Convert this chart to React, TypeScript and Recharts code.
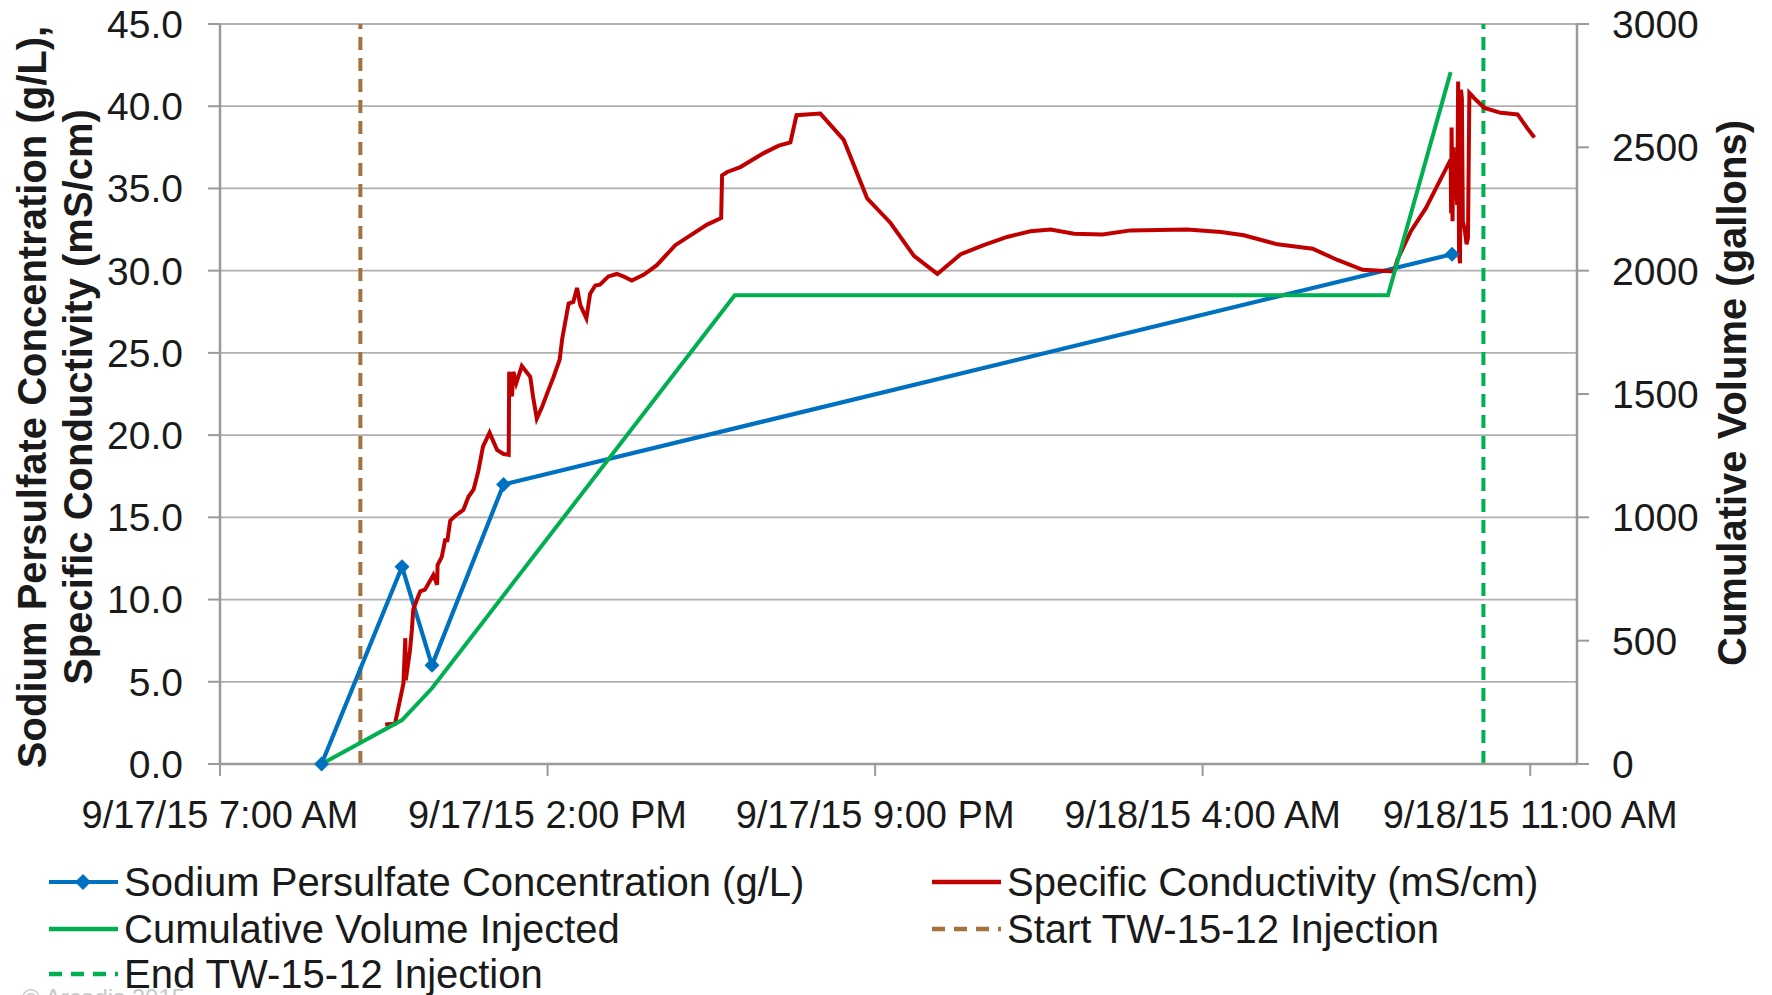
import React from 'react';
import { LineChart, Line, XAxis, YAxis, CartesianGrid, ReferenceLine, Legend } from 'recharts';

// ---- Data (x = hours after 9/17/15 7:00 AM) ----
const xTickHours = [0, 7, 14, 21, 28];
const xTickLabels = ['9/17/15 7:00 AM', '9/17/15 2:00 PM', '9/17/15 9:00 PM', '9/18/15 4:00 AM', '9/18/15 11:00 AM'];
const leftTicks = [0, 5, 10, 15, 20, 25, 30, 35, 40, 45];
const rightTicks = [0, 500, 1000, 1500, 2000, 2500, 3000];

const persulfateHours = [2.17, 3.89, 4.53, 6.06, 26.33];
const persulfateValues = [0, 12, 6, 17, 31];

const volumeHours = [2.17, 3.89, 4.53, 11.0, 24.96, 26.3];
const volumeValues = [0, 178, 307, 1900, 1900, 2805];

const conductivityHours = [
  3.53, 3.74, 3.92, 3.96, 3.97, 4.06, 4.1, 4.13, 4.21, 4.28, 4.38, 4.56, 4.64, 4.65, 4.74, 4.81, 4.86, 4.92,
  5.03, 5.2, 5.31, 5.42, 5.52, 5.62, 5.76, 5.92, 6.06, 6.17, 6.18, 6.22, 6.24, 6.27, 6.33, 6.45, 6.63, 6.69,
  6.77, 6.88, 7.02, 7.13, 7.26, 7.31, 7.45, 7.55, 7.63, 7.7, 7.83, 7.91, 8.02, 8.12, 8.3, 8.48, 8.62, 8.8,
  9.05, 9.2, 9.34, 9.73, 10.41, 10.71, 10.73, 10.84, 11.12, 11.62, 11.94, 12.19, 12.32, 12.83, 13.33, 13.83,
  14.33, 14.83, 15.33, 15.83, 16.32, 16.82, 17.32, 17.75, 18.25, 18.86, 19.46, 20.67, 21.39, 21.88, 22.6,
  23.1, 23.35, 23.88, 24.42, 25.09, 25.16, 25.45, 25.77, 26.02, 26.3, 26.31, 26.32, 26.34, 26.36, 26.38,
  26.4, 26.44, 26.46, 26.48, 26.5, 26.52, 26.54, 26.56, 26.6, 26.64, 26.67, 26.7, 26.8, 27.02, 27.37, 27.73,
  27.94, 28.09,
];
const conductivityValues = [
  2.4, 2.45, 4.9, 7.65, 5.1, 6.9, 8.15, 9.4, 10.0, 10.5, 10.6, 11.5, 10.9, 12.1, 12.6, 13.6, 13.6, 14.8,
  15.1, 15.45, 16.25, 16.7, 17.8, 19.3, 20.15, 19.1, 18.85, 18.8, 23.85, 22.9, 22.35, 23.85, 23.15, 24.2, 23.55, 22.35,
  21.0, 21.7, 22.75, 23.55, 24.6, 25.8, 28.0, 28.1, 28.95, 27.9, 27.1, 28.6, 29.1, 29.15, 29.65, 29.8, 29.65, 29.4,
  29.75, 30.05, 30.35, 31.55, 32.8, 33.2, 35.8, 36.0, 36.3, 37.15, 37.6, 37.8, 39.45, 39.55, 37.95, 34.4,
  32.9, 30.9, 29.8, 31.0, 31.55, 32.05, 32.4, 32.5, 32.25, 32.2, 32.45, 32.5, 32.35, 32.15, 31.6,
  31.43, 31.33, 30.65, 30.05, 29.95, 30.65, 32.4, 33.8, 35.2, 36.75, 33.5, 38.7, 33.0, 37.5, 34.5,
  36.0, 34.0, 41.5, 31.0, 30.45, 41.0, 40.5, 33.0, 32.5, 31.6, 32.0, 40.8, 40.5, 39.9, 39.6, 39.5,
  38.65, 38.1,
];

const startInjectionHour = 3;
const endInjectionHour = 27;

const legendLabels = [
  'Sodium Persulfate Concentration (g/L)',
  'Specific Conductivity (mS/cm)',
  'Cumulative Volume Injected',
  'Start TW-15-12 Injection',
  'End TW-15-12 Injection',
];

// ---- Styles ----
const FONT = '"Liberation Sans", Arial, sans-serif';
const BLUE = '#0070C0';
const RED = '#C00000';
const GREEN = '#00B050';
const BROWN = '#A5713C';
const AXIS = '#9a9a9a';
const GRID = '#b0b0b0';
const TEXT = '#1a1a1a';

const persulfateData = persulfateHours.map((t, i) => ({ t, v: persulfateValues[i] }));
const volumeData = volumeHours.map((t, i) => ({ t, v: volumeValues[i] }));
const conductivityData = conductivityHours.map((t, i) => ({ t, v: conductivityValues[i] }));

const Diamond = (props: any) => {
  const { cx, cy, index } = props;
  if (cx == null || cy == null) return <g key={`d-${index}`} />;
  const r = 7.5;
  return (
    <polygon
      key={`d-${index}`}
      points={`${cx},${cy - r} ${cx + r},${cy} ${cx},${cy + r} ${cx - r},${cy}`}
      fill={BLUE}
    />
  );
};

const legendStyles = [
  { color: BLUE, dash: undefined, marker: true, width: 4 },
  { color: RED, dash: undefined, marker: false, width: 4.5 },
  { color: GREEN, dash: undefined, marker: false, width: 4.5 },
  { color: BROWN, dash: '13 9', marker: false, width: 4.5 },
  { color: GREEN, dash: '13 9', marker: false, width: 4.5 },
];
const legendPos = [
  { x: 49, y: 32 },
  { x: 932, y: 32 },
  { x: 49, y: 79 },
  { x: 932, y: 79 },
  { x: 49, y: 124 },
];

const renderLegend = () => (
  <svg width={1772} height={145} style={{ display: 'block' }}>
    {legendLabels.map((label, i) => {
      const s = legendStyles[i];
      const p = legendPos[i];
      return (
        <g key={label}>
          <line
            x1={p.x}
            x2={p.x + 69}
            y1={p.y}
            y2={p.y}
            stroke={s.color}
            strokeWidth={s.width}
            strokeDasharray={s.dash}
          />
          {s.marker && (
            <polygon
              points={`${p.x + 34},${p.y - 8} ${p.x + 42},${p.y} ${p.x + 34},${p.y + 8} ${p.x + 26},${p.y}`}
              fill={BLUE}
            />
          )}
          <text x={p.x + 75} y={p.y + 14} fontSize={40} fontFamily={FONT} fill={TEXT}>
            {label}
          </text>
        </g>
      );
    })}
  </svg>
);

const LeftTitle = (props: any) => {
  const vb = props.viewBox || {};
  const cy = (vb.y ?? 24) + (vb.height ?? 740) / 2 + 3;
  return (
    <g>
      <text
        x={46}
        y={cy}
        transform={`rotate(-90, 46, ${cy})`}
        textAnchor="middle"
        fontSize={40}
        fontWeight="bold"
        fontFamily={FONT}
        fill={TEXT}
      >
        Sodium Persulfate Concentration (g/L),
      </text>
      <text
        x={92}
        y={cy}
        transform={`rotate(-90, 92, ${cy})`}
        textAnchor="middle"
        fontSize={40}
        fontWeight="bold"
        fontFamily={FONT}
        fill={TEXT}
      >
        Specific Conductivity (mS/cm)
      </text>
    </g>
  );
};

const RightTitle = (props: any) => {
  const vb = props.viewBox || {};
  const cy = (vb.y ?? 24) + (vb.height ?? 740) / 2 - 1;
  const x = 1746;
  return (
    <text
      x={x}
      y={cy}
      transform={`rotate(-90, ${x}, ${cy})`}
      textAnchor="middle"
      fontSize={40}
      fontWeight="bold"
      fontFamily={FONT}
      fill={TEXT}
    >
      Cumulative Volume (gallons)
    </text>
  );
};

export default function App() {
  return (
    <div style={{ position: 'relative', width: 1772, height: 995, overflow: 'hidden', background: '#fff' }}>
      <style>{'body{margin:0;}'}</style>
      <LineChart width={1772} height={995} margin={{ top: 24, right: 0, bottom: 0, left: 0 }}>
        <CartesianGrid yAxisId="left" vertical={false} stroke={GRID} strokeWidth={1.8} />
        <XAxis
          type="number"
          dataKey="t"
          domain={[0, 29]}
          ticks={xTickHours}
          interval={0}
          allowDataOverflow
          tickFormatter={(v: number) => xTickLabels[xTickHours.indexOf(v)] ?? ''}
          height={86}
          tickSize={12}
          tickMargin={25}
          axisLine={{ stroke: AXIS, strokeWidth: 2.5 }}
          tickLine={{ stroke: AXIS, strokeWidth: 2 }}
          tick={{ fontSize: 38, fill: TEXT, fontFamily: FONT }}
        />
        <YAxis
          yAxisId="left"
          width={220}
          domain={[0, 45]}
          ticks={leftTicks}
          interval={0}
          tickFormatter={(v: number) => v.toFixed(1)}
          tickSize={12}
          tickMargin={25}
          axisLine={{ stroke: AXIS, strokeWidth: 2.5 }}
          tickLine={{ stroke: AXIS, strokeWidth: 2 }}
          tick={{ fontSize: 39, fill: TEXT, fontFamily: FONT }}
          label={{ content: (p: any) => <LeftTitle {...p} /> }}
        />
        <YAxis
          yAxisId="right"
          orientation="right"
          width={195}
          domain={[0, 3000]}
          ticks={rightTicks}
          interval={0}
          tickSize={12}
          tickMargin={23}
          axisLine={{ stroke: AXIS, strokeWidth: 2.5 }}
          tickLine={{ stroke: AXIS, strokeWidth: 2 }}
          tick={{ fontSize: 39, fill: TEXT, fontFamily: FONT, textAnchor: 'start' }}
          label={{ content: (p: any) => <RightTitle {...p} /> }}
        />
        <ReferenceLine
          yAxisId="left"
          x={startInjectionHour}
          stroke={BROWN}
          strokeWidth={4}
          strokeDasharray="13 8"
        />
        <ReferenceLine
          yAxisId="left"
          x={endInjectionHour}
          stroke={GREEN}
          strokeWidth={4}
          strokeDasharray="13 8"
        />
        <Line
          yAxisId="left"
          data={persulfateData}
          dataKey="v"
          type="linear"
          stroke={BLUE}
          strokeWidth={4.2}
          dot={(p: any) => <Diamond key={`dm-${p.index}`} {...p} />}
          activeDot={false}
          isAnimationActive={false}
          name={legendLabels[0]}
        />
        <Line
          yAxisId="left"
          data={conductivityData}
          dataKey="v"
          type="linear"
          stroke={RED}
          strokeWidth={4}
          dot={false}
          activeDot={false}
          isAnimationActive={false}
          name={legendLabels[1]}
        />
        <Line
          yAxisId="right"
          data={volumeData}
          dataKey="v"
          type="linear"
          stroke={GREEN}
          strokeWidth={4}
          dot={false}
          activeDot={false}
          isAnimationActive={false}
          name={legendLabels[2]}
        />
        <Legend
          verticalAlign="bottom"
          content={renderLegend}
          wrapperStyle={{ left: 0, bottom: 0, width: 1772, height: 145 }}
        />
      </LineChart>
      <div
        style={{
          position: 'absolute',
          left: 22,
          top: 984,
          fontSize: 24,
          fontFamily: FONT,
          color: '#c8c8c8',
          whiteSpace: 'nowrap',
        }}
      >
        © Arcadis 2015
      </div>
    </div>
  );
}
